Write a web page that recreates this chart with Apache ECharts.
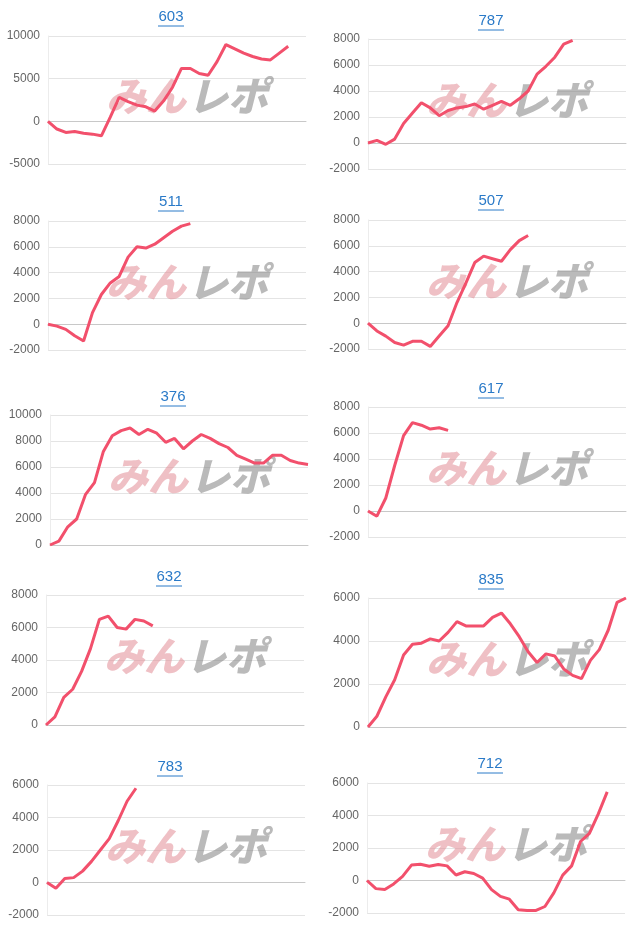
<!DOCTYPE html>
<html>
<head>
<meta charset="utf-8">
<script src="https://cdn.jsdelivr.net/npm/echarts@6/dist/echarts.min.js"></script>
<style>
  html, body { margin: 0; padding: 0; background: #fff; }
  #chart { width: 640px; height: 931px; }
</style>
</head>
<body>
<div id="chart"></div>
<script>
// machine numbers shown as chart titles
const titles = ['603', '787', '511', '507', '376', '617', '632', '835', '783', '712'];

// slot count shared by every x axis
const slotCount = 30;

// differential values per machine, one value per slot
const values603 = [0, -900, -1300, -1200, -1400, -1500, -1700, 500, 2800, 2300, 1900, 1700, 1200, 2400,
  4000, 6200, 6200, 5600, 5400, 7000, 9000, 8500, 8000, 7600, 7300, 7200, 8000, 8800];
const values787 = [0, 200, -100, 300, 1500, 2300, 3100, 2700, 2100, 2500, 2700, 2800, 3000, 2600, 2900,
  3200, 2900, 3400, 4000, 5300, 5900, 6600, 7600, 7900];
const values511 = [0, -150, -400, -900, -1300, 900, 2300, 3200, 3700, 5200, 6000, 5900, 6200, 6700, 7200, 7600, 7800];
const values507 = [0, -600, -1000, -1500, -1700, -1400, -1400, -1800, -1000, -200, 1600, 3100, 4700, 5200,
  5000, 4800, 5700, 6400, 6800];
const values376 = [0, 300, 1400, 2000, 3900, 4800, 7200, 8400, 8800, 9000, 8500, 8900, 8600, 7900, 8200,
  7400, 8000, 8500, 8200, 7800, 7500, 6900, 6600, 6300, 6300, 6900, 6900, 6500, 6300, 6200];
const values617 = [0, -400, 1000, 3500, 5800, 6800, 6600, 6300, 6400, 6200];
const values632 = [0, 500, 1700, 2200, 3300, 4700, 6500, 6700, 6000, 5900, 6500, 6400, 6100];
const values835 = [0, 500, 1400, 2200, 3350, 3850, 3900, 4100, 4000, 4400, 4900, 4700, 4700, 4700, 5100,
  5300, 4800, 4200, 3500, 3000, 3400, 3300, 2700, 2400, 2250, 3100, 3600, 4500, 5800, 6000];
const values783 = [0, -350, 250, 300, 700, 1300, 2000, 2700, 3800, 5000, 5800];
const values712 = [0, -500, -550, -210, 250, 950, 1000, 880, 990, 900, 340, 540, 430, 150, -560, -980,
  -1150, -1800, -1840, -1840, -1600, -760, 330, 900, 2400, 2900, 4100, 5450];

// y axis ranges per machine: [min, max, interval]
const yRanges = [
  [-5000, 10000, 5000], [-2000, 8000, 2000],
  [-2000, 8000, 2000], [-2000, 8000, 2000],
  [0, 10000, 2000], [-2000, 8000, 2000],
  [0, 8000, 2000], [0, 6000, 2000],
  [-2000, 6000, 2000], [-2000, 6000, 2000],
];

const seriesValues = [values603, values787, values511, values507, values376,
  values617, values632, values835, values783, values712];

// panel placement: [grid left, grid top, grid bottom(y), title y]
const panels = [
  [48, 36, 164, 17], [368, 39, 169, 21],
  [48, 221, 350, 202], [368, 220, 349, 201],
  [50, 415, 545, 397], [368, 407, 537, 389],
  [46, 595, 725, 577], [368, 598, 727, 580],
  [47, 785, 915, 767], [367, 783, 913, 764],
];
const gridWidth = 258;
const slots = Array.from({ length: slotCount }, (_, i) => i + 1);
const labelFont = '"Liberation Sans", Arial, sans-serif';

const chart = echarts.init(document.getElementById('chart'));

const grid = [];
const xAxis = [];
const yAxis = [];
const series = [];
const graphic = [];

panels.forEach(([left, top, bottom, titleY], i) => {
  const [min, max, interval] = yRanges[i];
  const center = left + gridWidth / 2 - 6;
  grid.push({ left, top, width: gridWidth, height: bottom - top });
  xAxis.push({
    type: 'category', gridIndex: i, data: slots, boundaryGap: false,
    axisLine: { lineStyle: { color: '#c8c8c8' } },
    axisTick: { show: false }, axisLabel: { show: false },
  });
  yAxis.push({
    type: 'value', gridIndex: i, min, max, interval,
    axisLine: { show: true, lineStyle: { color: '#ececec' } },
    axisTick: { show: false },
    splitLine: { lineStyle: { color: '#e4e4e4' } },
    axisLabel: { color: '#666', fontSize: 12, fontFamily: labelFont, margin: 8, formatter: (v) => String(v) },
  });
  series.push({
    type: 'line', xAxisIndex: i, yAxisIndex: i, data: seriesValues[i],
    showSymbol: false, symbol: 'none', z: 5,
    lineStyle: { color: '#f2506c', width: 3 },
  });
  graphic.push({
    type: 'text', z: 10, x: center, y: titleY,
    style: {
      text: titles[i], fill: '#2a7ac8', align: 'center', verticalAlign: 'middle',
      font: '15px ' + labelFont,
    },
  });
  graphic.push({
    type: 'line', z: 10,
    shape: { x1: center - 13, y1: titleY + 9, x2: center + 13, y2: titleY + 9 },
    style: { stroke: '#2a7ac8', lineWidth: 1 },
  });
  // watermark
  const wy = (top + bottom) / 2 - 24;
  graphic.push({
    type: 'text', z: 1, left: left + 58, top: wy,
    style: { text: 'みん', fill: 'rgba(226,140,150,0.55)', font: 'italic 900 40px "Noto Sans CJK JP"' },
  });
  graphic.push({
    type: 'text', z: 1, left: left + 140, top: wy,
    style: { text: 'レポ', fill: 'rgba(130,130,130,0.55)', font: 'italic 900 40px "Noto Sans CJK JP"' },
  });
});

chart.setOption({
  animation: false,
  grid, xAxis, yAxis, series, graphic,
});
</script>
</body>
</html>
